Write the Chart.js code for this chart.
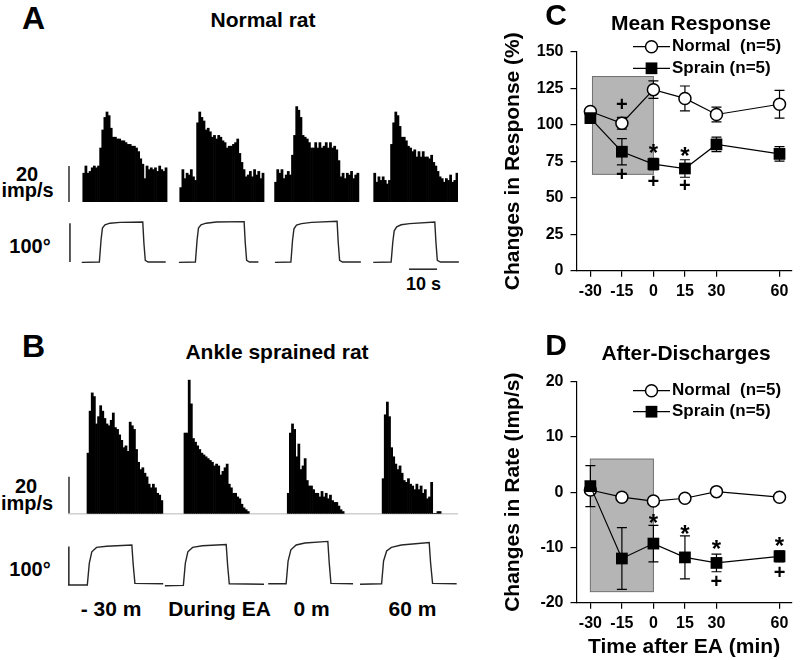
<!DOCTYPE html>
<html><head><meta charset="utf-8">
<script src="https://cdn.jsdelivr.net/npm/chart.js@4.4.1/dist/chart.umd.min.js"></script>
<style>
html,body{margin:0;padding:0;background:#fff;}
#fig{position:relative;width:800px;height:660px;overflow:hidden;background:#fff;font-family:'Liberation Sans',Arial,Helvetica,sans-serif;font-weight:bold;color:#000;}
canvas{position:absolute;display:block;}
.t{position:absolute;transform:translate(-50%,-50%);line-height:1;white-space:pre;}
</style></head><body>
<div id="fig">
  <canvas id="hA" width="390" height="108" style="left:68px;top:94px;width:390px;height:108px"></canvas>
  <canvas id="tA" width="392" height="54" style="left:68px;top:218px;width:392px;height:54px"></canvas>
  <canvas id="hB" width="390" height="146" style="left:68px;top:371px;width:390px;height:146px"></canvas>
  <canvas id="tB" width="392" height="52" style="left:68px;top:537px;width:392px;height:52px"></canvas>
  <canvas id="cC" width="300" height="330" style="left:500px;top:0px;width:300px;height:330px"></canvas>
  <canvas id="cD" width="300" height="330" style="left:500px;top:330px;width:300px;height:330px"></canvas>

  <div class="t" style="left:33.5px;top:17.5px;font-size:32px">A</div>
  <div class="t" style="left:33.5px;top:346px;font-size:32px">B</div>
  <div class="t" style="left:556px;top:15px;font-size:30px">C</div>
  <div class="t" style="left:556px;top:345px;font-size:30px">D</div>

  <div class="t" style="left:263px;top:19px;font-size:21px">Normal rat</div>
  <div class="t" style="left:277px;top:351px;font-size:21px">Ankle sprained rat</div>
  <div class="t" style="left:691px;top:22px;font-size:21px">Mean Response</div>
  <div class="t" style="left:686px;top:352px;font-size:21px">After-Discharges</div>

  <div class="t" style="left:27px;top:173.5px;font-size:20px">20</div>
  <div class="t" style="left:27.5px;top:190px;font-size:20px">imp/s</div>
  <div class="t" style="left:30px;top:245.5px;font-size:20px">100°</div>
  <div class="t" style="left:26px;top:485.5px;font-size:20px">20</div>
  <div class="t" style="left:27px;top:503px;font-size:20px">imp/s</div>
  <div class="t" style="left:30px;top:568.5px;font-size:20px">100°</div>
  <div class="t" style="left:423.5px;top:284px;font-size:18px">10 s</div>

  <div class="t" style="left:111px;top:607.5px;font-size:21px">- 30 m</div>
  <div class="t" style="left:219.5px;top:607.5px;font-size:21px">During EA</div>
  <div class="t" style="left:311.5px;top:607.5px;font-size:21px">0 m</div>
  <div class="t" style="left:412.5px;top:607.5px;font-size:21px">60 m</div>
</div>
<script>
// ---------------- DATA ----------------
// Peri-stimulus histograms (imp/s per bin), panel A (normal rat)
const histA1 = [16,20,16,17,19,20,19,20,30,40,47,50,48,41,36,36,35,35,34,34,33,32,32,31,31,30,28,24,21,13,20,18,19,18,19,17,20,18,17,19];
const histA2 = [8,18,13,16,15,18,14,12,44,50,47,45,40,41,39,36,37,35,37,36,34,33,30,31,31,32,33,35,27,22,18,14,15,17,14,18,15,17,13,16];
const histA3 = [11,18,16,18,13,15,17,15,26,37,53,51,47,37,36,35,33,30,30,33,30,33,30,31,33,30,33,30,31,29,23,14,16,13,16,15,17,13,15,16];
const histA4 = [16,11,14,12,14,12,10,12,32,44,50,48,42,36,36,34,31,30,28,29,25,28,25,28,25,25,24,26,22,20,17,14,13,11,13,12,15,11,12,16];
// Panel B (ankle sprained rat): -30 m, During EA, 0 m, 60 m
const histB1 = [33,56,66,64,49,53,59,56,52,49,48,51,55,47,46,43,40,36,37,34,50,48,46,35,28,24,25,22,20,16,14,16,14,11,10,7];
const histB2 = [44,44,73,60,41,39,37,35,33,32,31,30,29,28,26,27,26,21,23,25,27,16,14,11,11,9,8,5,3,2,1];
const histB3 = [11,44,49,46,31,38,24,26,30,18,15,15,13,11,11,9,12,9,11,8,10,7,6,6,4,2,1];
const histB4 = [19,54,61,53,36,31,27,24,26,22,18,17,19,16,15,13,16,13,15,11,13,8,9,17,0,0,1,1];
const binCount = 185;                 // bins across each strip
const sweepStartA = [7, 53, 98, 145]; // first bin of each sweep
const sweepStartB = [9, 55, 104, 149];

// Ankle angle traces [time (s), angle (deg)]
const traceA1 = [[4.9,-1],[11.2,0],[11.8,55],[12.3,85],[13.2,93],[15,97],[18.6,99],[26.7,100],[27.1,48],[27.6,4],[28.6,0],[34.9,0]];
const traceA2 = [[39.6,-1],[45.5,0],[46.1,55],[46.6,85],[47.5,93],[49.3,97],[53,100],[62.9,101],[63.3,48],[63.8,4],[64.8,0],[68,0]];
const traceA3 = [[73.9,-1],[79.6,0],[80.2,55],[80.7,83],[81.6,92],[83.4,96],[87,99],[96.1,102],[96.5,50],[97,4],[98,0],[104.6,0]];
const traceA4 = [[109,-1],[115.4,0],[116,50],[116.5,78],[117.4,88],[119,93],[122,96],[131,100],[131.4,50],[131.9,4],[133,0],[139.6,0]];
const traceB1 = [[0,0],[6.9,0],[7.6,54],[8.5,83],[10.2,94],[13.8,97],[22.8,100],[23.3,50],[23.9,4],[34,3]];
const traceB2 = [[34.6,-2],[41.2,-1],[41.9,54],[42.8,83],[44.5,94],[48,98],[56.5,101],[57,50],[57.6,3],[70,2]];
const traceB3 = [[71.5,3],[77.9,3],[78.6,60],[79.6,88],[81.5,100],[84.6,105],[92.8,109],[93.3,55],[93.9,4],[101.8,3]];
const traceB4 = [[104.3,2],[112,3],[112.7,60],[113.8,85],[115.5,94],[119,100],[129,106],[129.5,55],[130.2,4],[138.8,3]];

// Panels C and D
const timeMin = [-30, -15, 0, 15, 30, 60];
const respNormal   = [109, 101, 124, 118, 107, 114];
const respNormalSE = [2, 4, 6, 8.5, 5, 9.5];
const respSprain   = [104.5, 81.5, 73, 70, 86.5, 80];
const respSprainSE = [3, 9, 4, 6, 5, 5];
const adNormal   = [0.4, -0.9, -1.6, -1.1, 0.1, -0.9];
const adNormalSE = [0.6, 0.5, 0.5, 0.5, 0.5, 0.5];
const adSprain   = [1.1, -12.0, -9.3, -11.8, -12.8, -11.6];
const adSprainSE = [3.7, 5.6, 3.3, 3.9, 1.6, 1.0];
const eaPeriodC = {x0: -29, x1: 0, y0: 66, y1: 133};
const eaPeriodD = {x0: -30, x1: 0, y0: -18, y1: 6};
const signifC = [['+',-15,114.7],['+',-15,66.7],['*',0,83.8],['+',0,62],['*',15,81.5],['+',15,58.7]];
const signifD = [['*',0,-4.7],['*',15,-6.7],['*',30,-9.5],['*',60,-8.9],['+',30,-15.9],['+',60,-14.4]];
const seriesLabels = ['Normal  (n=5)', 'Sprain (n=5)'];

// ---------------- CHARTS ----------------
Chart.defaults.font.family = "'Liberation Sans', Arial, Helvetica, sans-serif";
Chart.defaults.font.weight = 'bold';
Chart.defaults.color = '#000';

function common() {
  return {responsive:false, animation:false, events:[], layout:{padding:0},
          plugins:{legend:{display:false}, tooltip:{enabled:false}}};
}
function buildStrip(sweeps, starts) {
  const arr = new Array(binCount).fill(null);
  sweeps.forEach((s, k) => s.forEach((v, i) => { arr[starts[k] + i] = v; }));
  return arr;
}
const binLabels = Array.from({length: binCount}, (_, i) => String(i));

function histChart(id, sweeps, starts, yMin, yMax, baseline) {
  const extras = {
    id: 'histExtras',
    beforeDatasetsDraw(chart) {
      if (!baseline) return;
      const {ctx, chartArea: a, scales: {y}} = chart;
      ctx.save(); ctx.strokeStyle = '#b8b8b8'; ctx.lineWidth = 1;
      const yy = y.getPixelForValue(0) + 0.5;
      ctx.beginPath(); ctx.moveTo(a.left, yy); ctx.lineTo(a.right, yy); ctx.stroke(); ctx.restore();
    },
    afterDatasetsDraw(chart) {
      const {ctx, chartArea: a, scales: {y}} = chart;
      ctx.save(); ctx.strokeStyle = '#3a3a3a'; ctx.lineWidth = 1.6;
      const x = a.left + 1;
      ctx.beginPath(); ctx.moveTo(x, y.getPixelForValue(0)); ctx.lineTo(x, y.getPixelForValue(20)); ctx.stroke();
      ctx.restore();
    }
  };
  const o = common();
  o.scales = {x:{display:false}, y:{display:false, min:yMin, max:yMax}};
  return new Chart(document.getElementById(id), {
    type:'bar',
    data:{labels: binLabels, datasets:[{data: buildStrip(sweeps, starts), backgroundColor:'#000',
      borderWidth:0, barPercentage:1, categoryPercentage:1}]},
    options:o, plugins:[extras]
  });
}
histChart('hA', [histA1, histA2, histA3, histA4], sweepStartA, 0, 60, false);
histChart('hB', [histB1, histB2, histB3, histB4], sweepStartB, -2, 78, true);

function traceChart(id, traces, yMin, yMax, bars) {
  const extras = {
    id: 'traceExtras',
    afterDatasetsDraw(chart) {
      const {ctx, scales: {x, y}} = chart;
      ctx.save(); ctx.strokeStyle = '#222'; ctx.lineWidth = 1.5;
      bars.forEach(b => {
        ctx.beginPath();
        ctx.moveTo(x.getPixelForValue(b[0]), y.getPixelForValue(b[1]));
        ctx.lineTo(x.getPixelForValue(b[2]), y.getPixelForValue(b[3]));
        ctx.stroke();
      });
      ctx.restore();
    }
  };
  const o = common();
  o.scales = {x:{type:'linear', display:false, min:0, max:140}, y:{display:false, min:yMin, max:yMax}};
  return new Chart(document.getElementById(id), {
    type:'line',
    data:{datasets: traces.map(tr => ({data: tr.map(p => ({x:p[0], y:p[1]})), borderColor:'#262626',
      borderWidth:1.4, pointRadius:0, tension:0, fill:false}))},
    options:o, plugins:[extras]
  });
}
// scale bars: [x0, y0, x1, y1] in seconds / degrees (100° bar, 10 s bar)
traceChart('tA', [traceA1, traceA2, traceA3, traceA4], -25, 110, [[0.7,0,0.7,97],[121.8,-18,131.8,-18]]);
traceChart('tB', [traceB1, traceB2, traceB3, traceB4], -10, 120, [[0.3,0,0.3,96]]);

function pts(xs, ys) { return xs.map((x, i) => ({x, y: ys[i]})); }

function statChart(id, cfg) {
  const extras = {
    id: 'statExtras',
    beforeDatasetsDraw(chart) {
      const {ctx, scales: {x, y}} = chart;
      ctx.save();
      const b = cfg.box;
      const L = x.getPixelForValue(b.x0), R = x.getPixelForValue(b.x1);
      const T = y.getPixelForValue(b.y1), B = y.getPixelForValue(b.y0);
      ctx.fillStyle = '#b5b5b5'; ctx.fillRect(L, T, R - L, B - T);
      ctx.strokeStyle = '#707070'; ctx.lineWidth = 1; ctx.strokeRect(L, T, R - L, B - T);
      ctx.strokeStyle = '#000'; ctx.lineWidth = 1.2;
      cfg.se.forEach((se, d) => {
        chart.data.datasets[d].data.forEach((p, i) => {
          const px = x.getPixelForValue(p.x);
          const hi = y.getPixelForValue(p.y + se[i]), lo = y.getPixelForValue(p.y - se[i]);
          ctx.beginPath();
          ctx.moveTo(px, hi); ctx.lineTo(px, lo);
          ctx.moveTo(px - 5, hi); ctx.lineTo(px + 5, hi);
          ctx.moveTo(px - 5, lo); ctx.lineTo(px + 5, lo);
          ctx.stroke();
        });
      });
      ctx.restore();
    },
    afterDatasetsDraw(chart) {
      const {ctx, scales: {x, y}} = chart;
      ctx.save();
      ctx.fillStyle = '#000'; ctx.textAlign = 'center'; ctx.textBaseline = 'alphabetic';
      cfg.signif.forEach(s => {
        ctx.font = (s[0] === '*' ? 'bold 24px ' : 'bold 20px ') + "'Liberation Sans', Arial, sans-serif";
        const m = ctx.measureText(s[0]);
        const py = y.getPixelForValue(s[2]) + (m.actualBoundingBoxAscent - m.actualBoundingBoxDescent) / 2;
        ctx.fillText(s[0], x.getPixelForValue(s[1]), py);
      });
      // legend
      const lg = cfg.legend;
      seriesLabels.forEach((lab, i) => {
        const ds = chart.data.datasets[i];
        const yy = lg.y + i * lg.gap;
        ctx.strokeStyle = '#000'; ctx.lineWidth = 1.2;
        ctx.beginPath(); ctx.moveTo(lg.x0, yy); ctx.lineTo(lg.x1, yy); ctx.stroke();
        ctx.fillStyle = ds.pointBackgroundColor; ctx.strokeStyle = '#000'; ctx.lineWidth = ds.pointBorderWidth;
        Chart.helpers.drawPoint(ctx, {pointStyle: ds.pointStyle, radius: ds.pointRadius,
          borderWidth: ds.pointBorderWidth, rotation: 0}, (lg.x0 + lg.x1) / 2, yy);
        ctx.fillStyle = '#000'; ctx.textAlign = 'left'; ctx.textBaseline = 'middle';
        ctx.font = "bold 17px 'Liberation Sans', Arial, sans-serif";
        ctx.fillText(lab, lg.tx, yy);
      });
      ctx.restore();
    }
  };
  const axisCommon = {
    grid:{display:true, drawOnChartArea:false, drawTicks:true, tickLength:6, color:'#000', lineWidth:1.2},
    border:{display:true, color:'#000', width:1.2},
  };
  const o = common();
  o.layout = {padding:{top:51.7, right:3, left:0, bottom:0}};
  o.scales = {
    x: Object.assign({type:'linear', min:-36.6, max:65.8,
      afterBuildTicks: s => { s.ticks = timeMin.map(v => ({value: v})); },
      afterFit: s => { s.height = cfg.xHeight; },
      ticks:{color:'#000', font:{size:16, weight:'bold'}, padding:5, maxRotation:0, autoSkip:false},
      title: cfg.xTitle ? {display:true, text:cfg.xTitle, color:'#000', font:{size:21, weight:'bold'}, padding:{top:0, bottom:0}} : {display:false}
    }, axisCommon),
    y: Object.assign({min:cfg.yMin, max:cfg.yMax,
      afterFit: s => { s.width = 76.5; },
      ticks:{stepSize:cfg.yStep, color:'#000', font:{size:16, weight:'bold'}, padding:7},
      title:{display:true, text:cfg.yTitle, color:'#000', font:{size:21, weight:'bold'}, padding:{top:1, bottom:0}}
    }, axisCommon)
  };
  return new Chart(document.getElementById(id), {
    type:'line',
    data:{datasets:[
      {label:seriesLabels[0], data: pts(timeMin, cfg.normal), borderColor:'#000', borderWidth:1.2, tension:0,
       pointStyle:'circle', pointRadius:6, pointBackgroundColor:'#fff', pointBorderColor:'#000', pointBorderWidth:1.5, order:2, clip:false},
      {label:seriesLabels[1], data: pts(timeMin, cfg.sprain), borderColor:'#000', borderWidth:1.2, tension:0,
       pointStyle:'rect', pointRadius:8.3, pointBackgroundColor:'#000', pointBorderColor:'#000', pointBorderWidth:0, order:1, clip:false}
    ]},
    options:o, plugins:[extras]
  });
}

statChart('cC', {normal:respNormal, sprain:respSprain, se:[respNormalSE, respSprainSE], box:eaPeriodC,
  signif:signifC, yMin:0, yMax:150, yStep:25, yTitle:'Changes in Response (%)', xTitle:null, xHeight:59.3,
  legend:{x0:133, x1:170, tx:172, y:46.7, gap:21.6}});
statChart('cD', {normal:adNormal, sprain:adSprain, se:[adNormalSE, adSprainSE], box:eaPeriodD,
  signif:signifD, yMin:-20, yMax:20, yStep:10, yTitle:'Changes in Rate (Imp/s)', xTitle:'Time after EA (min)', xHeight:57.3,
  legend:{x0:133, x1:170, tx:172, y:60.7, gap:21}});
</script>
</body></html>
